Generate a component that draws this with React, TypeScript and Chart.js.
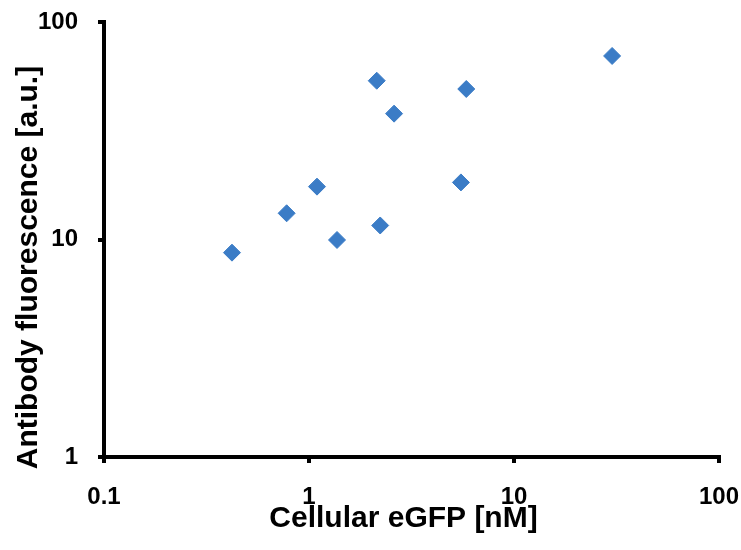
import React, { useEffect, useRef } from 'react';
import { Chart, registerables } from 'chart.js';

Chart.register(...registerables);

const xValues = [0.421, 0.778, 1.094, 1.37, 2.225, 2.14, 2.6, 5.85, 5.51, 30.1];
const yValues = [8.7, 13.2, 17.5, 9.95, 11.6, 53.7, 37.9, 49.2, 18.3, 69.8];
const xTicks = [0.1, 1, 10, 100];
const yTicks = [1, 10, 100];
const xTitle = 'Cellular eGFP [nM]';
const yTitle = 'Antibody fluorescence [a.u.]';

const FONT = '"Liberation Sans", Arial, sans-serif';

const titlePlugin = {
  id: 'excelTitles',
  afterDraw(chart: any) {
    const ctx = chart.ctx;
    ctx.save();
    ctx.fillStyle = '#000';
    ctx.font = `bold 30px ${FONT}`;
    ctx.textAlign = 'center';
    ctx.textBaseline = 'alphabetic';
    ctx.fillText(xTitle, 403.5, 527);
    ctx.translate(37, 267.5);
    ctx.rotate(-Math.PI / 2);
    ctx.fillText(yTitle, 0, 0);
    ctx.restore();
  },
};

export default function App() {
  const ref = useRef<HTMLCanvasElement | null>(null);
  useEffect(() => {
    if (!ref.current) return;
    const points = xValues.map((x, i) => ({ x, y: yValues[i] }));
    const tickFont = { family: FONT, size: 24, weight: 'bold' as const };
    const chart = new Chart(ref.current, {
      type: 'scatter',
      data: {
        datasets: [
          {
            data: points,
            pointStyle: 'rectRot',
            pointRadius: 8.5,
            pointHoverRadius: 8.5,
            borderWidth: 1,
            backgroundColor: '#3b7cc6',
            borderColor: '#3b7cc6',
          },
        ],
      },
      options: {
        responsive: false,
        animation: false,
        events: [],
        layout: { padding: { top: 22, right: 22, left: 0, bottom: 0 } },
        plugins: { legend: { display: false }, tooltip: { enabled: false }, title: { display: false } },
        scales: {
          x: {
            type: 'logarithmic',
            position: 'bottom',
            min: 0.1,
            max: 100,
            afterBuildTicks: (s: any) => {
              s.ticks = xTicks.map((v) => ({ value: v }));
            },
            afterFit: (s: any) => {
              s.height = 93;
              s.paddingLeft = 0;
              s.paddingRight = 0;
              s.paddingTop = 0;
              s.paddingBottom = 0;
            },
            grid: { display: true, drawOnChartArea: false, drawTicks: true, tickLength: 6, lineWidth: 4, color: '#000' },
            border: { display: true, color: '#000', width: 4 },
            ticks: {
              color: '#000',
              font: tickFont,
              padding: 20,
              maxRotation: 0,
              autoSkip: false,
              callback: (v: any) => String(v),
            },
          },
          y: {
            type: 'logarithmic',
            position: 'left',
            min: 1,
            max: 100,
            afterBuildTicks: (s: any) => {
              s.ticks = yTicks.map((v) => ({ value: v }));
            },
            afterFit: (s: any) => {
              s.width = 104;
              s.paddingLeft = 0;
              s.paddingRight = 0;
              s.paddingTop = 0;
              s.paddingBottom = 0;
            },
            grid: { display: true, drawOnChartArea: false, drawTicks: true, tickLength: 6, lineWidth: 4, color: '#000' },
            border: { display: true, color: '#000', width: 4 },
            ticks: {
              color: '#000',
              font: tickFont,
              padding: 20,
              autoSkip: false,
              callback: (v: any) => String(v),
            },
          },
        },
      },
      plugins: [titlePlugin],
    });
    return () => chart.destroy();
  }, []);
  return (
    <div style={{ position: 'absolute', left: 0, top: 0, width: 741, height: 550, background: '#fff' }}>
      <canvas ref={ref} width={741} height={550} style={{ display: 'block' }} />
    </div>
  );
}
